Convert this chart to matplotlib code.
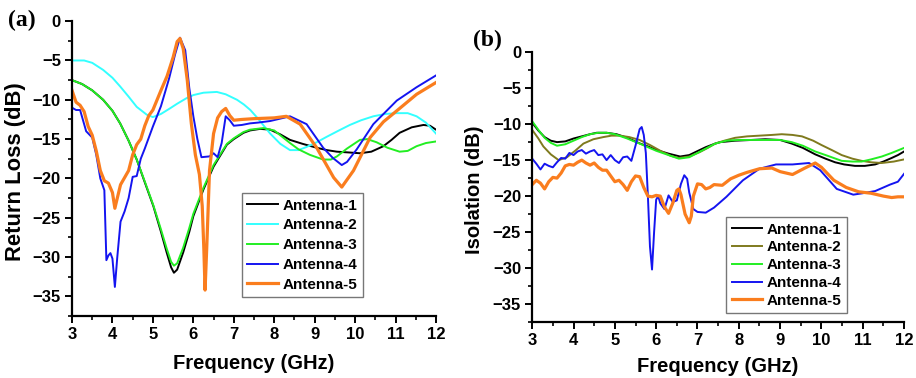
import numpy as np
import matplotlib.pyplot as plt
from matplotlib.ticker import MultipleLocator

# ---- (a) Return loss ----
f1a = [3, 3.25, 3.5, 3.77, 4.0, 4.19, 4.4, 4.6, 4.8, 5.01, 5.2, 5.34, 5.45, 5.52, 5.6, 5.75, 5.9, 6.0, 6.25, 6.5, 6.83,
       7.0, 7.24, 7.4, 7.65, 7.9, 8.15, 8.39, 8.7, 9.05, 9.3, 9.55, 9.85, 10.12, 10.4, 10.7, 10.9, 11.1, 11.4, 11.69, 11.85, 12.0]
rl1 = [-7.5, -8.0, -8.8, -10.0, -11.4, -13.0, -15.2, -17.6, -20.5, -23.5, -26.8, -29.4, -31.3, -32.0, -31.6, -29.4, -26.8,
       -24.8, -21.4, -18.5, -15.7, -15.0, -14.2, -13.9, -13.7, -13.8, -14.4, -15.1, -15.6, -16.1, -16.4, -16.6, -16.7, -16.8,
       -16.6, -15.9, -15.1, -14.2, -13.5, -13.2, -13.3, -13.8]

f2a = [3, 3.3, 3.5, 3.77, 4.0, 4.19, 4.4, 4.6, 4.85, 5.0, 5.2, 5.42, 5.6, 5.83, 6.0, 6.25, 6.58, 6.8, 7.08, 7.25, 7.41,
       7.6, 7.9, 8.15, 8.39, 8.6, 8.8, 9.05, 9.3, 9.6, 9.87, 10.15, 10.45, 10.75, 11.03, 11.3, 11.52, 11.75, 12.0]
rl2 = [-5.0, -5.0, -5.3, -6.2, -7.2, -8.3, -9.6, -10.9, -11.9, -12.2, -11.8, -11.1, -10.5, -9.8, -9.4, -9.1, -9.0, -9.3,
       -10.0, -10.6, -11.3, -12.4, -14.3, -15.6, -16.4, -16.4, -16.0, -15.4, -14.7, -13.9, -13.2, -12.6, -12.1, -11.8,
       -11.7, -11.7, -12.1, -12.9, -14.3]

f3a = [3, 3.25, 3.5, 3.77, 4.0, 4.19, 4.4, 4.6, 4.8, 5.01, 5.2, 5.34, 5.45, 5.52, 5.6, 5.75, 5.9, 6.0, 6.25, 6.5, 6.83,
       7.0, 7.24, 7.4, 7.73, 8.0, 8.39, 8.6, 8.88, 9.21, 9.4, 9.55, 9.8, 10.12, 10.3, 10.53, 10.8, 11.1, 11.3, 11.52, 11.75, 12.0]
rl3 = [-7.5, -8.0, -8.8, -10.0, -11.4, -13.0, -15.2, -17.6, -20.4, -23.4, -26.5, -28.9, -30.6, -31.1, -30.8, -28.8,
       -26.3, -24.5, -21.2, -18.3, -15.6, -14.9, -14.1, -13.8, -13.6, -13.9, -15.5, -16.3, -17.0, -17.6, -17.6, -17.2,
       -16.2, -15.1, -15.0, -15.4, -16.1, -16.6, -16.5, -15.9, -15.5, -15.3]

f4a = [3, 3.1, 3.2, 3.35, 3.5, 3.6, 3.7, 3.8, 3.85, 3.9, 3.95, 4.0, 4.06, 4.12, 4.2, 4.3, 4.4, 4.5, 4.6, 4.7, 4.8, 5.0,
       5.2, 5.4, 5.55, 5.67, 5.8, 5.9, 6.0, 6.1, 6.2, 6.4, 6.5, 6.6, 6.7, 6.8, 6.9, 7.0, 7.2, 7.4, 7.6, 7.9, 8.39, 8.8,
       9.21, 9.45, 9.67, 9.8, 10.04, 10.45, 11.03, 11.52, 12.0]
rl4 = [-11.0, -11.3, -11.3, -14.0, -14.8, -17.0, -20.0, -21.5, -30.4, -29.8, -29.5, -30.2, -33.8, -30.0, -25.5, -24.2,
       -22.5, -19.8, -19.7, -17.5, -16.2, -13.4, -10.8, -7.3, -4.2, -2.1, -3.7, -8.5, -12.1, -15.0, -17.3, -17.2, -16.8,
       -17.3, -15.5, -12.1, -12.6, -13.3, -13.2, -13.0, -12.9, -12.7, -12.1, -13.1, -16.1, -17.4, -18.3, -17.9, -16.3,
       -13.1, -10.1, -8.4, -6.9]

f5a = [3, 3.1, 3.2, 3.3, 3.4, 3.5, 3.6, 3.7, 3.8, 3.9, 4.0, 4.06, 4.12, 4.2, 4.3, 4.4, 4.5, 4.6, 4.7, 4.8, 4.9, 5.0, 5.2,
       5.35, 5.5, 5.6, 5.67, 5.75, 5.85, 5.95, 6.05, 6.15, 6.22, 6.26, 6.29, 6.33, 6.4, 6.5, 6.6, 6.7, 6.8, 6.9, 7.0, 7.2,
       7.5, 8.0, 8.3, 8.64, 9.05, 9.47, 9.67, 9.96, 10.37, 10.7, 11.03, 11.52, 12.0]
rl5 = [-8.8, -10.3, -10.7, -11.5, -13.4, -14.5, -16.5, -19.0, -20.3, -20.6, -21.8, -23.8, -22.5, -20.8, -19.9, -19.0,
       -17.0, -15.7, -15.0, -13.3, -12.0, -11.3, -8.8, -7.0, -4.6, -2.6, -2.2, -3.5, -7.5, -13.0, -17.0, -19.5, -23.5,
       -29.0, -34.2, -29.0, -19.0, -14.3, -12.3, -11.5, -11.1, -12.0, -12.6, -12.5, -12.4, -12.3, -12.1, -13.1, -16.1,
       -19.9, -21.1, -19.0, -14.8, -12.8, -11.4, -9.3, -7.8]

# ---- (b) Isolation ----
f1b = [3, 3.15, 3.3, 3.45, 3.6, 3.8, 4.0, 4.2, 4.4, 4.56, 4.8, 5.04, 5.3, 5.61, 5.8, 6.01, 6.3, 6.58, 6.8, 6.98, 7.2,
       7.43, 7.55, 7.91, 8.3, 8.64, 9.0, 9.28, 9.55, 9.85, 10.1, 10.33, 10.55, 10.81, 11.05, 11.3, 11.5, 11.7, 11.85, 12.0]
iso1 = [-9.8, -10.9, -11.8, -12.3, -12.5, -12.4, -12.0, -11.7, -11.4, -11.2, -11.2, -11.4, -11.9, -12.7, -13.1, -13.6,
        -14.1, -14.5, -14.3, -13.8, -13.2, -12.7, -12.5, -12.3, -12.2, -12.1, -12.2, -12.7, -13.3, -14.2, -14.8, -15.3,
        -15.6, -15.8, -15.8, -15.6, -15.2, -14.7, -14.3, -13.8]

f2b = [3, 3.15, 3.27, 3.45, 3.64, 3.84, 4.04, 4.24, 4.48, 4.72, 4.92, 5.12, 5.35, 5.6, 5.85, 6.1, 6.35, 6.55, 6.8, 7.05,
       7.25, 7.43, 7.65, 7.91, 8.2, 8.5, 8.8, 9.04, 9.3, 9.53, 9.8, 10.0, 10.25, 10.49, 10.75, 10.97, 11.2, 11.46, 11.75, 12.0]
iso2 = [-10.8, -12.0, -13.1, -14.2, -15.0, -14.6, -13.7, -12.7, -12.1, -11.8, -11.6, -11.6, -11.8, -12.2, -12.9, -13.7,
        -14.4, -14.7, -14.5, -13.9, -13.3, -12.7, -12.3, -11.9, -11.7, -11.6, -11.5, -11.4, -11.5, -11.7, -12.3, -12.9,
        -13.6, -14.3, -14.8, -15.1, -15.3, -15.4, -15.2, -14.9]

f3b = [3, 3.15, 3.3, 3.45, 3.6, 3.8, 4.0, 4.2, 4.4, 4.6, 4.8, 5.0, 5.3, 5.6, 5.8, 6.0, 6.3, 6.55, 6.8, 7.0, 7.2, 7.43,
       7.7, 8.0, 8.3, 8.64, 9.0, 9.28, 9.55, 9.85, 10.15, 10.49, 10.75, 10.97, 11.2, 11.46, 11.7, 12.0]
iso3 = [-9.6, -10.8, -11.9, -12.6, -13.0, -12.8, -12.3, -11.8, -11.4, -11.2, -11.2, -11.4, -12.0, -12.7, -13.2, -13.7,
        -14.3, -14.8, -14.6, -14.0, -13.4, -12.7, -12.3, -12.2, -12.2, -12.2, -12.2, -12.5, -13.0, -13.8, -14.4, -15.1,
        -15.2, -15.2, -14.9, -14.5, -14.0, -13.3]

f4b = [3, 3.1, 3.2, 3.3, 3.4, 3.5, 3.6, 3.7, 3.8, 3.9, 4.0, 4.1, 4.2, 4.3, 4.4, 4.5, 4.6, 4.7, 4.8, 4.9, 5.0, 5.1, 5.2,
       5.3, 5.4, 5.5, 5.6, 5.65, 5.7, 5.75, 5.8, 5.85, 5.9, 5.95, 6.0, 6.05, 6.1, 6.2, 6.3, 6.4, 6.5, 6.6, 6.68, 6.75, 6.8,
       6.9, 7.0, 7.2, 7.4, 7.7, 8.1, 8.5, 8.9, 9.3, 9.7, 9.97, 10.37, 10.77, 11.0, 11.3, 11.66, 11.85, 12]
iso4 = [-14.8, -15.5, -16.3, -15.5, -15.8, -16.0, -15.3, -14.7, -14.8, -14.0, -14.3, -13.8, -13.6, -14.1, -13.8, -13.6,
        -14.3, -14.2, -15.0, -14.3, -15.0, -15.4, -14.6, -14.5, -15.1, -13.0, -10.7, -10.4, -11.5, -14.0, -20.0, -27.0,
        -30.2, -25.0, -20.5, -20.0, -21.0, -21.8, -19.9, -20.8, -20.6, -18.3, -17.1, -17.6, -19.5, -21.8, -22.2, -22.3,
        -21.6, -20.1, -17.8, -16.2, -15.6, -15.6, -15.4, -16.4, -19.0, -19.8, -19.6, -19.3, -18.4, -18.0, -16.9]

f5b = [3, 3.1, 3.2, 3.3, 3.4, 3.5, 3.6, 3.7, 3.8, 3.9, 4.0, 4.1, 4.2, 4.3, 4.4, 4.5, 4.6, 4.7, 4.8, 4.9, 5.0, 5.1, 5.2,
       5.3, 5.4, 5.5, 5.6, 5.7, 5.8, 5.9, 6.0, 6.1, 6.2, 6.3, 6.4, 6.5, 6.55, 6.6, 6.7, 6.8, 6.85, 6.9, 7.0, 7.1, 7.2, 7.3,
       7.4, 7.6, 7.8, 8.0, 8.2, 8.5, 8.8, 9.0, 9.3, 9.6, 9.85, 10.0, 10.3, 10.6, 10.9, 11.2, 11.5, 11.7, 11.85, 12]
iso5 = [-18.4, -17.8, -18.2, -19.0, -18.0, -17.4, -17.5, -16.8, -15.8, -15.6, -15.7, -15.3, -15.0, -15.4, -15.7, -15.4,
        -16.0, -16.4, -16.4, -17.2, -18.0, -17.8, -18.4, -19.2, -18.0, -17.2, -17.3, -18.8, -20.0, -20.1, -19.9, -20.0,
        -21.5, -22.4, -21.0, -19.2, -19.0, -19.8, -22.5, -23.7, -22.8, -20.0, -18.3, -18.4, -19.0, -18.8, -18.4, -18.5,
        -17.6, -17.1, -16.7, -16.2, -16.1, -16.6, -17.0, -16.1, -15.4, -16.0, -17.8, -18.8, -19.4, -19.6, -20.0, -20.2,
        -20.1, -20.1]

labels = ['Antenna-1', 'Antenna-2', 'Antenna-3', 'Antenna-4', 'Antenna-5']
colors_a = ['black', '#33ffff', '#22ee22', '#1414f0', '#fa7d1e']
colors_b = ['black', '#7f7a1e', '#22ee22', '#1414f0', '#fa7d1e']
widths = [1.4, 1.4, 1.4, 1.4, 2.3]

plt.rcParams['font.family'] = ['Liberation Sans', 'DejaVu Sans']
plt.rcParams['font.weight'] = 'bold'

fig = plt.figure(figsize=(9.16, 3.78), dpi=100)
ax1 = fig.add_axes([0.0786, 0.164, 0.3974, 0.780])
ax2 = fig.add_axes([0.581, 0.148, 0.406, 0.714])


def style_axis(ax, ylabel, legend_box, spacing, ysize):
    ax.set_xlim(3, 12)
    ax.set_ylim(-37.5, 0)
    ax.xaxis.set_major_locator(MultipleLocator(1))
    ax.xaxis.set_minor_locator(MultipleLocator(0.5))
    ax.yaxis.set_major_locator(MultipleLocator(5))
    ax.yaxis.set_minor_locator(MultipleLocator(2.5))
    ax.spines['top'].set_visible(False)
    ax.spines['right'].set_visible(False)
    for s in ['left', 'bottom']:
        ax.spines[s].set_linewidth(1.6)
    ax.tick_params(which='major', direction='out', length=5, width=1.4, labelsize=12, pad=3)
    ax.tick_params(which='minor', direction='out', length=3, width=1.2)
    for t in ax.get_xticklabels() + ax.get_yticklabels():
        t.set_fontweight('bold')
    ax.set_xlabel('Frequency (GHz)', fontsize=14.5, fontweight='bold')
    ax.set_ylabel(ylabel, fontsize=ysize, fontweight='bold')
    leg = ax.legend(loc='lower left', bbox_to_anchor=legend_box, fontsize=11,
                    frameon=True, fancybox=False, handlelength=2.0,
                    labelspacing=spacing, borderpad=0.35, handletextpad=0.3,
                    borderaxespad=0)
    leg.get_frame().set_edgecolor('#555555')
    leg.get_frame().set_linewidth(1.0)
    for t in leg.get_texts():
        t.set_fontweight('bold')


a_series = [(f1a, rl1), (f2a, rl2), (f3a, rl3), (f4a, rl4), (f5a, rl5)]
for (x, y), lab, c, w in zip(a_series, labels, colors_a, widths):
    ax1.plot(x, y, color=c, lw=w, label=lab)
style_axis(ax1, 'Return Loss (dB)', (0.467, 0.064), 0.38, 15.8)

b_series = [(f1b, iso1), (f2b, iso2), (f3b, iso3), (f4b, iso4), (f5b, iso5)]
for (x, y), lab, c, w in zip(b_series, labels, colors_b, widths):
    ax2.plot(x, y, color=c, lw=w, label=lab)
style_axis(ax2, 'Isolation (dB)', (0.522, 0.033), 0.25, 14.5)

ax1.yaxis.set_label_coords(-0.127, 0.49)
ax2.yaxis.set_label_coords(-0.129, 0.49)
ax1.xaxis.set_label_coords(0.5, -0.13)
ax2.xaxis.set_label_coords(0.5, -0.128)

fig.text(0.009, 0.974, '(a)', fontsize=17, fontweight='bold', va='top',
         family=['Liberation Serif', 'DejaVu Serif'])
fig.text(0.516, 0.921, '(b)', fontsize=17, fontweight='bold', va='top',
         family=['Liberation Serif', 'DejaVu Serif'])

fig.savefig('out.png', dpi=100)
